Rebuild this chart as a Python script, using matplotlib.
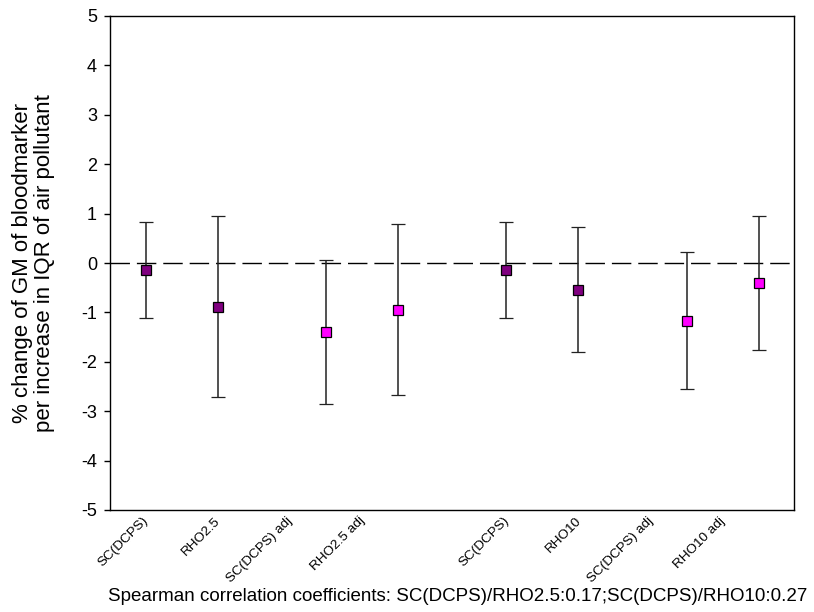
import matplotlib
matplotlib.use("Agg")
import matplotlib.pyplot as plt
import matplotlib.transforms as mtransforms

plt.rcParams['font.family'] = ['Liberation Sans', 'DejaVu Sans']
plt.rcParams['axes.unicode_minus'] = False

# data
labels = ['SC(DCPS)', 'RHO2.5', 'SC(DCPS) adj', 'RHO2.5 adj',
          'SC(DCPS)', 'RHO10', 'SC(DCPS) adj', 'RHO10 adj']
group = [0, 0, 0, 0, 1, 1, 1, 1]
item = [0, 1, 0, 1, 0, 1, 0, 1]
adjusted = [0, 0, 1, 1, 0, 0, 1, 1]
estimate = [-0.15, -0.89, -1.40, -0.95, -0.15, -0.55, -1.17, -0.41]
upper = [0.84, 0.96, 0.07, 0.79, 0.84, 0.72, 0.22, 0.96]
lower = [-1.12, -2.71, -2.86, -2.67, -1.12, -1.81, -2.55, -1.77]
note = 'Spearman correlation coefficients: SC(DCPS)/RHO2.5:0.17;SC(DCPS)/RHO10:0.27'

# layout: crude pair, then adjusted pair shifted half a slot
xpos = [1 + 5 * g + i + 2.5 * a for g, i, a in zip(group, item, adjusted)]
tickpos = [1 + 5 * g + i + 2 * a for g, i, a in zip(group, item, adjusted)]
colors = ['#FF00FF' if a else '#800080' for a in adjusted]

fig = plt.figure(figsize=(8.14, 6.12), dpi=100)
ax = fig.add_axes([110 / 814, 1 - 510 / 612, 684 / 814, 494 / 612])

ax.axhline(0, color='black', linewidth=1, dashes=(14, 5), zorder=1)

for x, y, lo, hi, c in zip(xpos, estimate, lower, upper, colors):
    ax.errorbar([x], [y], yerr=[[y - lo], [hi - y]], fmt='s', color=c,
                markersize=7.7, markeredgecolor='black', markeredgewidth=0.9,
                ecolor='#222222', elinewidth=1.1, capsize=4.7, capthick=1.1,
                zorder=3)

ax.set_xlim(0.505, 9.99)
ax.set_ylim(-5, 5)
ax.set_yticks(range(-5, 6))
ax.tick_params(axis='y', direction='out', length=4.3, width=1, pad=5,
               labelsize=13)
ax.set_xticks(tickpos)
ax.set_xticklabels(labels, rotation=45, ha='right', fontsize=9.7)
ax.tick_params(axis='x', length=0, pad=3.5)
shift = mtransforms.ScaledTranslation(5 / 100, 0, fig.dpi_scale_trans)
for lab in ax.get_xticklabels():
    lab.set_transform(lab.get_transform() + shift)

for sp in ax.spines.values():
    sp.set_linewidth(1)

ax.set_ylabel('% change of GM of bloodmarker\nper increase in IQR of air pollutant',
              fontsize=16, linespacing=1.05)
ax.yaxis.set_label_coords(-0.080, 0.5)

fig.text(108 / 814, 1 - 601 / 612, note, fontsize=13.5, ha='left', va='baseline')

fig.savefig('out.png', dpi=100)
